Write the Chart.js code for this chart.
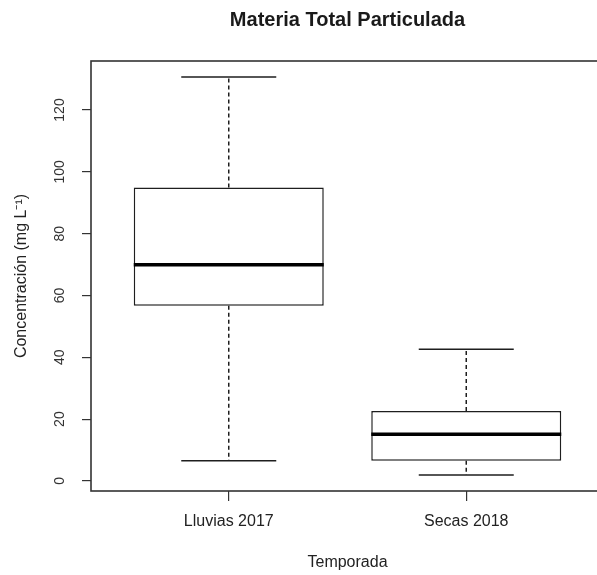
<!DOCTYPE html>
<html>
<head>
<meta charset="utf-8">
<script src="https://cdn.jsdelivr.net/npm/chart.js@4.4.1/dist/chart.umd.min.js"></script>
<style>
  html, body { margin: 0; padding: 0; background: #fff; overflow: hidden; width: 597px; height: 575px; }
  canvas { display: block; }
</style>
</head>
<body>
<canvas id="chart" width="610" height="575"></canvas>
<script>
// Five-number summaries per season (mg L-1)
const categories   = ['Lluvias 2017', 'Secas 2018'];
const whiskerLow   = [6.5, 1.9];
const quartile1    = [56.7, 6.5];
const medians      = [69.9, 15.1];
const quartile3    = [94.9, 22.6];
const whiskerHigh  = [130.7, 42.6];
const yTickValues  = [0, 20, 40, 60, 80, 100, 120];

// Axis ranges padded by 4% like a classic boxplot
const lo = Math.min(...whiskerLow), hi = Math.max(...whiskerHigh);
const yPad = 0.04 * (hi - lo);
const n = categories.length;
const xMin = 0.5 - 0.04 * n, xMax = n + 0.5 + 0.04 * n;

const ink = '#1e1e1e';
Chart.defaults.font.family = "'Liberation Sans', Arial, sans-serif";
Chart.defaults.color = '#222';

// Whiskers, staples, medians and the surrounding frame
const boxPlotLines = {
  id: 'boxPlotLines',
  afterDatasetsDraw(chart) {
    const { ctx, scales: { x, y } } = chart;
    const bars = chart.getDatasetMeta(0).data;
    ctx.save();
    ctx.strokeStyle = ink;
    const seg = (x1, y1, x2, y2) => { ctx.beginPath(); ctx.moveTo(x1, y1); ctx.lineTo(x2, y2); ctx.stroke(); };
    categories.forEach((c, i) => {
      const cx = x.getPixelForValue(i + 1);
      const half = bars[i].width / 2;
      const cap = half / 2;
      ctx.lineWidth = 1.5;
      ctx.setLineDash([4, 3]);
      seg(cx, y.getPixelForValue(quartile3[i]), cx, y.getPixelForValue(whiskerHigh[i]));
      seg(cx, y.getPixelForValue(quartile1[i]), cx, y.getPixelForValue(whiskerLow[i]));
      ctx.setLineDash([]);
      seg(cx - cap, y.getPixelForValue(whiskerHigh[i]), cx + cap, y.getPixelForValue(whiskerHigh[i]));
      seg(cx - cap, y.getPixelForValue(whiskerLow[i]), cx + cap, y.getPixelForValue(whiskerLow[i]));
      ctx.lineWidth = 3.5;
      ctx.strokeStyle = '#000';
      seg(cx - half, y.getPixelForValue(medians[i]), cx + half, y.getPixelForValue(medians[i]));
      ctx.strokeStyle = ink;
    });
    ctx.restore();
  },
  afterDraw(chart) {
    const { ctx, chartArea: a } = chart;
    ctx.save();
    ctx.strokeStyle = '#333';
    ctx.lineWidth = 1.6;
    ctx.strokeRect(a.left, a.top, a.right - a.left, a.bottom - a.top);
    ctx.restore();
  }
};

new Chart(document.getElementById('chart'), {
  type: 'bar',
  data: {
    datasets: [{
      data: categories.map((c, i) => ({ x: i + 1, y: [quartile1[i], quartile3[i]] })),
      backgroundColor: '#fff',
      borderColor: ink,
      borderWidth: 1.5,
      borderSkipped: false,
      barPercentage: 0.8,
      categoryPercentage: 1
    }]
  },
  options: {
    responsive: false,
    animation: false,
    devicePixelRatio: 1,
    layout: { padding: { left: 0, right: 6, top: 0, bottom: 0 } },
    plugins: {
      legend: { display: false },
      tooltip: { enabled: false },
      title: {
        display: true,
        fullSize: false,
        text: 'Materia Total Particulada',
        color: '#1a1a1a',
        font: { size: 20, weight: 'bold' },
        padding: { top: 8, bottom: 29 }
      }
    },
    scales: {
      x: {
        type: 'linear',
        min: xMin,
        max: xMax,
        offset: false,
        afterBuildTicks: s => { s.ticks = categories.map((c, i) => ({ value: i + 1 })); },
        afterFit: s => { s.height = 84; },
        ticks: {
          autoSkip: false,
          maxRotation: 0,
          padding: 11,
          font: { size: 16 },
          callback: v => categories[Math.round(v) - 1]
        },
        grid: { offset: false, drawOnChartArea: false, tickLength: 10, color: '#333', lineWidth: 1.2 },
        border: { display: false },
        title: { display: true, text: 'Temporada', font: { size: 16 }, padding: { top: 0, bottom: 3 } }
      },
      y: {
        min: lo - yPad,
        max: hi + yPad,
        afterBuildTicks: s => { s.ticks = yTickValues.map(v => ({ value: v })); },
        afterFit: s => { s.width = 91; },
        ticks: {
          autoSkip: false,
          minRotation: 90,
          maxRotation: 90,
          crossAlign: 'center',
          padding: 10,
          color: '#333',
          font: { size: 14 }
        },
        grid: { drawOnChartArea: false, tickLength: 9, color: '#333', lineWidth: 1.2 },
        border: { display: false },
        title: { display: true, text: 'Concentración (mg L⁻¹)', font: { size: 16 }, padding: { top: 12, bottom: 0 } }
      }
    }
  },
  plugins: [boxPlotLines]
});
</script>
</body>
</html>
